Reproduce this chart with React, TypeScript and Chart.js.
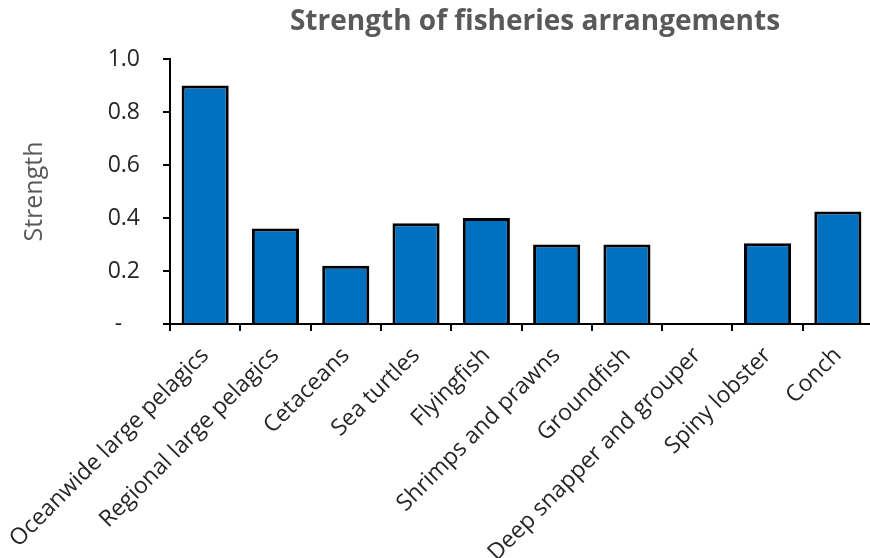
import React, { useEffect, useRef } from "react";
import { Chart, registerables } from "chart.js";

Chart.register(...registerables);

const categories = [
  "Oceanwide large pelagics",
  "Regional large pelagics",
  "Cetaceans",
  "Sea turtles",
  "Flyingfish",
  "Shrimps and prawns",
  "Groundfish",
  "Deep snapper and grouper",
  "Spiny lobster",
  "Conch",
];

const strength = [0.9, 0.36, 0.22, 0.38, 0.4, 0.3, 0.3, 0, 0.305, 0.425];

const yTicks = [0, 0.2, 0.4, 0.6, 0.8, 1.0];

const chartTitle = "Strength of fisheries arrangements";
const yAxisTitle = "Strength";

const FONT = "'Open Sans', sans-serif";

// Title centred over the plot area, drawn directly on the canvas
const titlePlugin = {
  id: "plotTitle",
  afterDraw(chart: Chart) {
    const { ctx } = chart;
    ctx.save();
    ctx.font = `bold 28px ${FONT}`;
    ctx.fillStyle = "#595959";
    ctx.textAlign = "center";
    ctx.textBaseline = "middle";
    ctx.fillText(chartTitle, 535, 22);
    ctx.restore();
  },
};

export default function App() {
  const canvasRef = useRef<HTMLCanvasElement | null>(null);

  useEffect(() => {
    document.body.style.margin = "0";
    const canvas = canvasRef.current;
    if (!canvas) return;
    const chart = new Chart(canvas, {
      type: "bar",
      data: {
        labels: categories,
        datasets: [
          {
            label: yAxisTitle,
            data: strength,
            backgroundColor: "#0070C0",
            borderColor: "#000000",
            borderWidth: 3,
            barPercentage: 0.67,
            categoryPercentage: 1,
          },
        ],
      },
      options: {
        responsive: false,
        animation: false,
        layout: { padding: { top: 59, right: 0, left: 0, bottom: 0 } },
        plugins: {
          legend: { display: false },
          tooltip: { enabled: false },
        },
        scales: {
          x: {
            grid: {
              offset: true,
              drawOnChartArea: false,
              drawTicks: true,
              tickLength: 7,
              tickColor: "#000",
              lineWidth: 2,
            },
            border: { color: "#000", width: 2 },
            ticks: {
              minRotation: 45,
              maxRotation: 45,
              autoSkip: false,
              padding: 11,
              color: "#262626",
              font: { family: FONT, size: 23 },
            },
            afterFit(scale: any) {
              scale.height = 234;
              scale.paddingLeft = 0;
              scale.paddingRight = 0;
            },
          },
          y: {
            min: 0,
            max: 1,
            afterBuildTicks(scale: any) {
              scale.ticks = yTicks.map((v) => ({ value: v }));
            },
            grid: {
              drawOnChartArea: false,
              drawTicks: true,
              tickLength: 7,
              tickColor: "#000",
              lineWidth: 2,
            },
            border: { color: "#000", width: 2 },
            ticks: {
              padding: 23,
              color: "#262626",
              font: { family: FONT, size: 23 },
              callback: (v: any) => (Number(v) === 0 ? "-   " : Number(v).toFixed(1)),
            },
            title: {
              display: true,
              text: yAxisTitle,
              color: "#595959",
              font: { family: FONT, size: 25 },
              padding: { top: 20, bottom: 0 },
            },
            afterFit(scale: any) {
              scale.width = 170;
              scale.paddingTop = 0;
              scale.paddingBottom = 0;
            },
          },
        },
      },
      plugins: [titlePlugin],
    });
    return () => chart.destroy();
  }, []);

  return (
    <div style={{ width: 870, height: 558, overflow: "hidden", position: "relative", background: "#fff" }}>
      <canvas ref={canvasRef} width={873} height={558} style={{ display: "block" }} />
    </div>
  );
}
